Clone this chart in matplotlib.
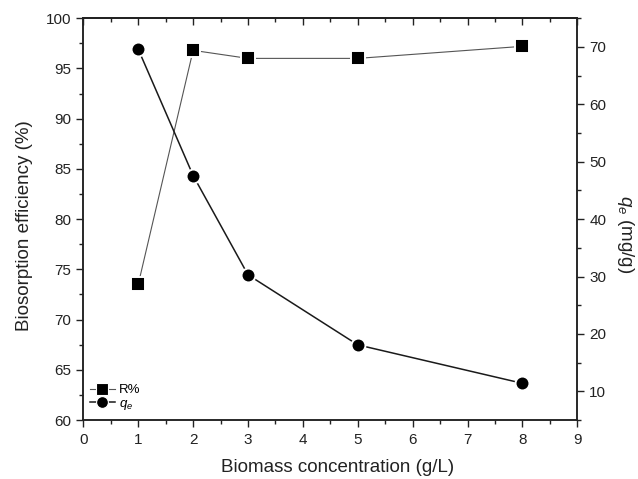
import matplotlib
matplotlib.use("Agg")
import matplotlib.pyplot as plt
from matplotlib.ticker import MultipleLocator
from matplotlib.lines import Line2D

plt.rcParams['font.family'] = ['Liberation Sans', 'DejaVu Sans']
plt.rcParams['mathtext.fontset'] = 'custom'
plt.rcParams['mathtext.rm'] = 'Liberation Sans'
plt.rcParams['mathtext.it'] = 'Liberation Sans:italic'

# data
biomass = [1, 2, 3, 5, 8]
removal = [73.5, 96.8, 96.0, 96.0, 97.2]
qe = [69.6, 47.6, 30.3, 18.1, 11.4]

fig = plt.figure(figsize=(6.38, 4.79), dpi=100)
ax = fig.add_axes([0.1306, 0.123, 0.7744, 0.839])
ax2 = ax.twinx()

ax.plot(biomass, removal, color='#555555', linewidth=0.8, marker='s',
        markersize=9.4, markerfacecolor='black', markeredgecolor='white',
        markeredgewidth=1.4, zorder=3)
ax2.plot(biomass, qe, color='#1a1a1a', linewidth=1.1, marker='o',
         markersize=10.0, markerfacecolor='black', markeredgecolor='white',
         markeredgewidth=1.4, zorder=3)

ax.set_xlim(0, 9)
ax.set_ylim(60, 100)
ax2.set_ylim(5, 75)

ax.xaxis.set_major_locator(MultipleLocator(1))
ax.xaxis.set_minor_locator(MultipleLocator(0.5))
ax.yaxis.set_major_locator(MultipleLocator(5))
ax.yaxis.set_minor_locator(MultipleLocator(2.5))
ax2.yaxis.set_major_locator(MultipleLocator(10))
ax2.yaxis.set_minor_locator(MultipleLocator(5))

for a in (ax, ax2):
    for s in a.spines.values():
        s.set_linewidth(1.1)
        s.set_color('#222222')

ax.tick_params(which='both', direction='out', top=False, labelsize=11,
               colors='#222222', width=1.0)
ax.tick_params(which='major', length=5)
ax.tick_params(which='minor', length=2.8)
ax.tick_params(axis='x', pad=4)
ax2.tick_params(which='both', direction='out', labelsize=11,
                colors='#222222', width=1.0)
ax2.tick_params(which='major', length=5)
ax2.tick_params(which='minor', length=2.8)

top = ax.secondary_xaxis('top')
top.xaxis.set_major_locator(MultipleLocator(1))
top.xaxis.set_minor_locator(MultipleLocator(0.5))
top.tick_params(which='both', direction='in', labeltop=False, width=1.0,
                colors='#222222')
top.tick_params(which='major', length=5)
top.tick_params(which='minor', length=2.8)
top.spines['top'].set_linewidth(1.1)

ax.set_xlabel('Biomass concentration (g/L)', fontsize=13.5, color='#222222')
ax.set_ylabel('Biosorption efficiency (%)', fontsize=13.5, color='#222222')
ax2.set_ylabel(r'$q_e$ (mg/g)', fontsize=13.5, color='#222222',
               rotation=-90)

ax.xaxis.set_label_coords(0.514, -0.117)
ax.xaxis.label.set_va('center')
ax.yaxis.set_label_coords(-0.12, 0.483)
ax.yaxis.label.set_va('center')
ax2.yaxis.set_label_coords(1.098, 0.463)
ax2.yaxis.label.set_va('center')

handles = [
    Line2D([], [], color='#555555', linewidth=0.8, marker='s', markersize=8,
           markerfacecolor='black', markeredgecolor='white',
           markeredgewidth=0.8),
    Line2D([], [], color='#1a1a1a', linewidth=1.1, marker='o', markersize=8.5,
           markerfacecolor='black', markeredgecolor='white',
           markeredgewidth=0.8),
]
ax.legend(handles, ['R%', r'$q_e$'], loc='lower left',
          bbox_to_anchor=(-0.008, -0.006), frameon=False, fontsize=9.5,
          handlelength=1.9, handletextpad=0.3, labelspacing=0.12,
          borderpad=0.3)

fig.savefig('out.png', dpi=100)
